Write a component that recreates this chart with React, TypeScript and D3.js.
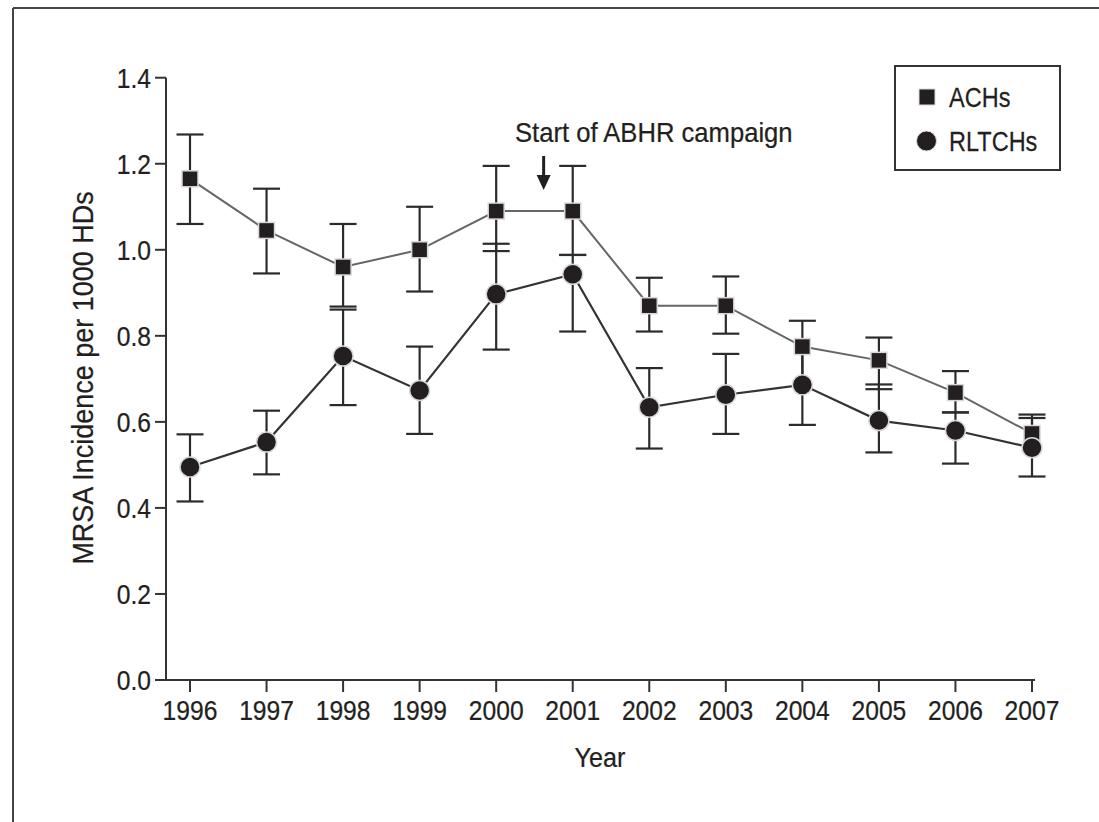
import React from "react";
import * as d3 from "d3";

const years = [1996, 1997, 1998, 1999, 2000, 2001, 2002, 2003, 2004, 2005, 2006, 2007];
const achMean = [1.165, 1.045, 0.96, 1.0, 1.09, 1.09, 0.87, 0.87, 0.775, 0.743, 0.668, 0.573];
const achLow = [1.06, 0.945, 0.868, 0.903, 0.997, 0.988, 0.81, 0.805, 0.705, 0.676, 0.622, 0.55];
const achHigh = [1.268, 1.142, 1.06, 1.1, 1.195, 1.195, 0.935, 0.938, 0.835, 0.796, 0.718, 0.617];
const rltMean = [0.495, 0.553, 0.753, 0.673, 0.897, 0.943, 0.634, 0.663, 0.686, 0.603, 0.58, 0.54];
const rltLow = [0.415, 0.478, 0.639, 0.572, 0.768, 0.81, 0.538, 0.572, 0.593, 0.529, 0.503, 0.473];
const rltHigh = [0.571, 0.626, 0.861, 0.775, 1.014, 0.988, 0.725, 0.758, 0.765, 0.687, 0.622, 0.609];
const yTicks = [0, 0.2, 0.4, 0.6, 0.8, 1.0, 1.2, 1.4];
const seriesNames = ["ACHs", "RLTCHs"];
const annotationText = "Start of ABHR campaign";
const annotationYear = 2000.62;

const FONT = "'Liberation Sans', Arial, Helvetica, sans-serif";
const INK = "#231f20";

function T({ x, y, sx = 0.88, size = 28, anchor = "start", rotate = 0, children }: any) {
  return (
    <text
      transform={`translate(${x},${y}) rotate(${rotate}) scale(${sx},1)`}
      textAnchor={anchor}
      fontFamily={FONT}
      fontSize={size}
      fill={INK}
      stroke={INK}
      strokeWidth={0.25}
    >
      {children}
    </text>
  );
}

export default function App() {
  const W = 1099, H = 822;
  const x = d3.scaleLinear().domain([1996, 2007]).range([190, 1032]);
  const y = d3.scaleLinear().domain([0, 1.4]).range([680, 77.7]);
  const axisX0 = 166;
  const line = d3.line<number>().x((_, i) => x(years[i])).y((v) => y(v));
  const capW = 13.5;

  // caps that fall inside the other series' marker are hidden by it in the original
  const errorBars = (lo: number[], hi: number[], other: number[]) =>
    years.map((yr, i) => {
      const hidden = (v: number) => Math.abs(y(v) - y(other[i])) < 11;
      return (
        <g key={yr} stroke="#2b2b2b" strokeWidth={2.2}>
          <line x1={x(yr)} x2={x(yr)} y1={y(lo[i])} y2={y(hi[i])} />
          {!hidden(lo[i]) && (
            <line x1={x(yr) - capW} x2={x(yr) + capW} y1={y(lo[i])} y2={y(lo[i])} />
          )}
          {!hidden(hi[i]) && (
            <line x1={x(yr) - capW} x2={x(yr) + capW} y1={y(hi[i])} y2={y(hi[i])} />
          )}
        </g>
      );
    });

  const ax = x(annotationYear);

  return (
    <svg width={W} height={H} style={{ position: "absolute", left: 0, top: 0, background: "#fff" }}>
      {/* outer frame */}
      <line x1={13} x2={W} y1={8} y2={8} stroke="#444" strokeWidth={2} />
      <line x1={13} x2={13} y1={8} y2={H} stroke="#444" strokeWidth={2} />

      {/* axes */}
      <line x1={axisX0} x2={axisX0} y1={y(1.4)} y2={y(0)} stroke="#333" strokeWidth={2} />
      <line x1={axisX0 - 11} x2={1035} y1={y(0)} y2={y(0)} stroke="#333" strokeWidth={2} />
      {yTicks.map((t) => (
        <g key={t}>
          <line x1={axisX0 - 11} x2={axisX0} y1={y(t)} y2={y(t)} stroke="#333" strokeWidth={2} />
          <T x={axisX0 - 15} y={y(t) + 10} anchor="end">{t.toFixed(1)}</T>
        </g>
      ))}
      {years.map((yr) => (
        <g key={yr}>
          <line x1={x(yr)} x2={x(yr)} y1={y(0)} y2={y(0) + 12} stroke="#333" strokeWidth={2} />
          <T x={x(yr)} y={720} anchor="middle">{yr}</T>
        </g>
      ))}
      <T x={600} y={767} anchor="middle" sx={0.9}>Year</T>
      <T x={93} y={378} anchor="middle" rotate={-90} size={29} sx={0.93}>MRSA Incidence per 1000 HDs</T>

      {/* error bars */}
      {errorBars(achLow, achHigh, rltMean)}
      {errorBars(rltLow, rltHigh, achMean)}

      {/* lines with halo */}
      <path d={line(achMean) || ""} fill="none" stroke="#fff" strokeWidth={5} />
      <path d={line(achMean) || ""} fill="none" stroke="#666" strokeWidth={2} />
      <path d={line(rltMean) || ""} fill="none" stroke="#fff" strokeWidth={5} />
      <path d={line(rltMean) || ""} fill="none" stroke="#333" strokeWidth={2.2} />

      {/* markers */}
      {years.map((yr, i) => (
        <rect key={"s" + yr} x={x(yr) - 8} y={y(achMean[i]) - 8} width={16} height={16}
          fill={INK} stroke="#d8d8d8" strokeWidth={1.5} />
      ))}
      {years.map((yr, i) => (
        <circle key={"c" + yr} cx={x(yr)} cy={y(rltMean[i])} r={10}
          fill={INK} stroke="#d8d8d8" strokeWidth={1.5} />
      ))}

      {/* annotation */}
      <T x={515} y={141.5} sx={0.915}>{annotationText}</T>
      <line x1={ax} x2={ax} y1={156} y2={178} stroke={INK} strokeWidth={3} />
      <path d={`M${ax - 7},${175} L${ax + 7},${175} L${ax},${190} Z`} fill={INK} />

      {/* legend */}
      <rect x={895} y={66} width={165} height={104} fill="#fff" stroke="#333" strokeWidth={2} />
      <rect x={919} y={89} width={16} height={16} fill={INK} stroke="#d8d8d8" strokeWidth={1} />
      <T x={949} y={107} sx={0.84}>{seriesNames[0]}</T>
      <circle cx={926.5} cy={141} r={10} fill={INK} stroke="#d8d8d8" strokeWidth={1} />
      <T x={949} y={151} sx={0.84}>{seriesNames[1]}</T>
    </svg>
  );
}
